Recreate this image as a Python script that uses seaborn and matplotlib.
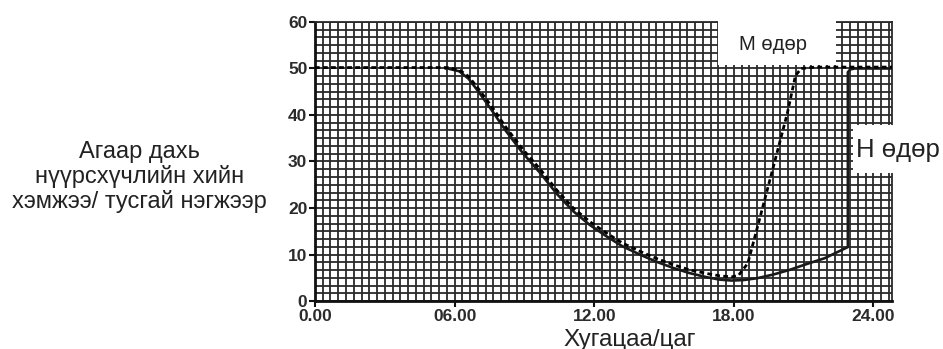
import matplotlib
matplotlib.use("Agg")
import matplotlib.pyplot as plt
from matplotlib.patches import Rectangle
from matplotlib.ticker import MultipleLocator
import pandas as pd
import seaborn as sns

# Day "М": hours and carbon dioxide level (relative units)
m_hours = [0, 5.7, 6.2, 6.6, 7.0, 7.6, 8.2, 8.9, 9.7, 10.4, 11.1, 11.8, 12.5,
           13.2, 14.0, 14.7, 15.4, 16.1, 16.85, 17.4, 17.9, 18.2, 18.6, 19.1,
           19.7, 20.3, 20.65, 20.9, 21.5, 24.8]
m_level = [50.2, 50.2, 49.7, 48.3, 45.8, 41.8, 37.4, 32.8, 28.2, 23.8, 20.0,
           17.1, 14.7, 12.5, 10.6, 9.1, 7.8, 6.7, 5.9, 5.4, 5.2, 5.5, 8.1,
           17.5, 28.9, 40.4, 48.5, 50.0, 50.3, 50.3]

# Day "Н"
n_hours = [5.6, 5.7, 6.2, 6.6, 7.0, 7.6, 8.2, 8.9, 9.7, 10.4, 11.1, 11.8, 12.5,
           13.2, 14.0, 14.7, 15.4, 16.1, 16.85, 17.4, 17.9, 18.4, 19.0, 19.7,
           20.4, 21.1, 21.9, 22.9, 22.9, 23.0, 23.2, 24.8]
n_level = [50, 50, 49.4, 47.8, 45.2, 41.0, 36.6, 32.0, 27.4, 23.0, 19.3, 16.4,
           14.0, 11.8, 9.9, 8.4, 7.1, 6.0, 5.1, 4.6, 4.4, 4.5, 4.9, 5.7, 6.7,
           7.9, 9.2, 11.6, 49.2, 49.8, 50, 50]

x_ticks = [0, 6, 12, 18, 24]
x_tick_labels = ["0.00", "06.00", "12.00", "18.00", "24.00"]
y_ticks = [0, 10, 20, 30, 40, 50, 60]

sns.set_theme(style="white")
plt.rcParams["font.family"] = ["Liberation Sans", "DejaVu Sans"]

fig = plt.figure(figsize=(9.43, 3.49), dpi=100)
ax = fig.add_axes([0.334, 0.1375, 0.612, 0.7995])

df_m = pd.DataFrame({"hour": m_hours, "level": m_level})
df_n = pd.DataFrame({"hour": n_hours, "level": n_level})

sns.lineplot(data=df_m, x="hour", y="level", ax=ax, sort=False, estimator=None,
             color="#000000", linewidth=2.0, linestyle=(0, (1.7, 1.2)), zorder=5)
sns.lineplot(data=df_n, x="hour", y="level", ax=ax, sort=False, estimator=None,
             color="#1a1a1a", linewidth=1.9, zorder=4)

ax.set_xlim(0, 24.8)
ax.set_ylim(0, 60)

# square graph-paper grid: 20-minute columns, 1/6 of ten units per row
ax.xaxis.set_minor_locator(MultipleLocator(1 / 3))
ax.yaxis.set_minor_locator(MultipleLocator(10 / 6))
ax.grid(which="both", color="#2a2a2a", linewidth=1.3)
ax.set_axisbelow(True)

ax.set_xticks(x_ticks)
ax.set_xticklabels(x_tick_labels)
ax.set_yticks(y_ticks)
ax.tick_params(axis="both", which="major", direction="out", length=4, width=1.5,
               color="#111111", labelsize=12.5, labelcolor="#2b2b2b", pad=1.5)
ax.tick_params(axis="both", which="minor", length=0)
ax.tick_params(left=True, bottom=True)
for lbl in ax.get_xticklabels() + ax.get_yticklabels():
    lbl.set_fontweight("bold")

for side in ["left", "bottom"]:
    ax.spines[side].set_color("#111111")
    ax.spines[side].set_linewidth(2.0)
for side in ["top", "right"]:
    ax.spines[side].set_color("#2a2a2a")
    ax.spines[side].set_linewidth(1.3)

ax.set_xlabel("")
ax.set_ylabel("")

# label panels
ax.add_patch(Rectangle((17.3, 50.8), 5.1, 9.6, facecolor="white",
                       edgecolor="none", zorder=3, clip_on=False))
ax.text(19.7, 55.2, "М өдөр", ha="center", va="center", fontsize=14.5,
        color="#222222", zorder=6)
ax.add_patch(Rectangle((23.1, 27.5), 4.2, 10.3, facecolor="white",
                       edgecolor="none", zorder=6, clip_on=False))
ax.text(25.05, 32.5, "Н өдөр", ha="center", va="center", fontsize=18.5,
        color="#222222", zorder=7, clip_on=False)

fig.text(0.148, 0.493, "Агаар дахь\nнүүрсхүчлийн хийн\nхэмжээ/ тусгай нэгжээр",
         ha="center", va="center", fontsize=17, color="#222222",
         linespacing=1.13)
fig.text(0.668, 0.010, "Хугацаа/цаг", ha="center", va="baseline",
         fontsize=17.5, color="#222222")

fig.savefig("out.png", dpi=100)
